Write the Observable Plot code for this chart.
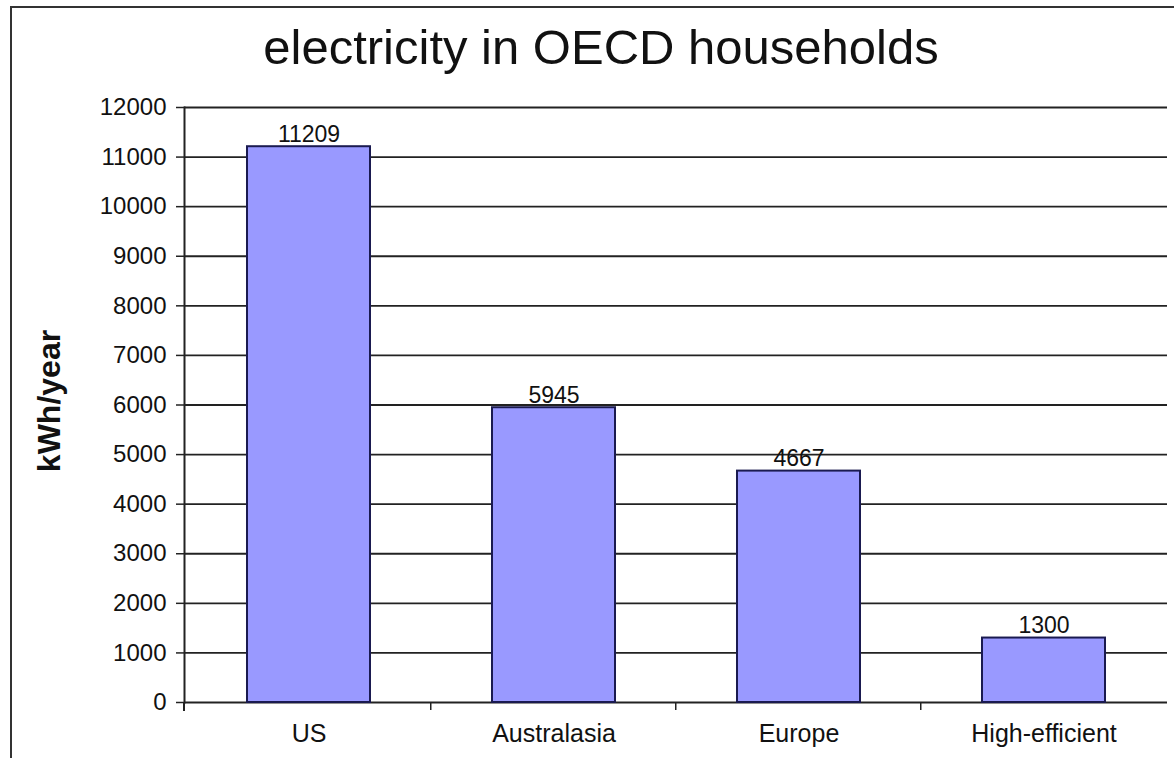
<!DOCTYPE html>
<html>
<head>
<meta charset="utf-8">
<script src="https://cdn.jsdelivr.net/npm/d3@7"></script>
<script src="https://cdn.jsdelivr.net/npm/@observablehq/plot@0.6"></script>
<style>
  html, body { margin: 0; padding: 0; background: #fff; }
  #wrap { position: relative; width: 1174px; height: 758px; overflow: hidden; font-family: "Liberation Sans", Arial, sans-serif; }
  #border { position: absolute; left: 10px; top: 6px; right: -10px; bottom: -10px; border-left: 2px solid #333; border-top: 2px solid #333; pointer-events: none; }
  #title { position: absolute; left: 0; width: 1202px; top: 19px; text-align: center; font-size: 49px; color: #111; }
  #chart { position: absolute; left: 0; top: 0; }
</style>
</head>
<body>
<div id="wrap">
  <div id="chart"></div>
  <div id="border"></div>
  <div id="title">electricity in OECD households</div>
</div>
<script>
const categories = ["US", "Australasia", "Europe", "High-efficient"];
const values = [11209, 5945, 4667, 1300];
const yTicks = [0, 1000, 2000, 3000, 4000, 5000, 6000, 7000, 8000, 9000, 10000, 11000, 12000];
const yLabel = "kWh/year";

const data = categories.map((c, i) => ({category: c, value: values[i]}));

function separators(index, scales, values, dimensions) {
  const g = d3.create("svg:g");
  const starts = categories.map(c => scales.x(c));
  const step = starts[1] - starts[0];
  const y0 = scales.y(0);
  for (let i = 1; i < starts.length; i++) {
    const bx = starts[i] - step * 0.25;
    g.append("line").attr("x1", bx).attr("x2", bx).attr("y1", y0).attr("y2", y0 + 8)
      .attr("stroke", "#222").attr("stroke-width", 1.5);
  }
  const lx = dimensions.marginLeft;
  g.append("line").attr("x1", lx).attr("x2", lx).attr("y1", y0).attr("y2", y0 + 9)
    .attr("stroke", "#222").attr("stroke-width", 2);
  return g.node();
}

const chart = Plot.plot({
  width: 1174,
  height: 758,
  marginTop: 107,
  marginBottom: 56,
  marginLeft: 184,
  marginRight: 7,
  style: {fontFamily: "'Liberation Sans', Arial, sans-serif", background: "transparent", color: "#111"},
  x: {domain: categories, paddingInner: 0.5, paddingOuter: 0.25, label: null},
  y: {domain: [0, 12000], label: null},
  marks: [
    Plot.ruleY(yTicks, {stroke: "#222", strokeWidth: 1.8, strokeOpacity: 1}),
    Plot.barY(data, {x: "category", y: "value", fill: "#9999ff", stroke: "#1a1a50", strokeWidth: 2}),
    Plot.text(data, {x: "category", y: "value", text: d => String(d.value), lineAnchor: "bottom", dy: -5, fontSize: 23, fill: "#111"}),
    Plot.axisY({ticks: yTicks, tickSize: 8, tickPadding: 10, fontSize: 24, tickFormat: d => String(d), stroke: "#222", strokeWidth: 1.5, label: null}),
    Plot.axisX({tickSize: 0, tickPadding: 22, fontSize: 25, label: null}),
    Plot.frame({anchor: "left", stroke: "#222", strokeWidth: 2}),
    separators
  ]
});

const svg = d3.select(chart);
svg.append("text")
  .attr("transform", "translate(60,401) rotate(-90)")
  .attr("text-anchor", "middle")
  .attr("font-size", 32)
  .attr("font-weight", "bold")
  .attr("fill", "#111")
  .text(yLabel);

document.getElementById("chart").appendChild(chart);
</script>
</body>
</html>
